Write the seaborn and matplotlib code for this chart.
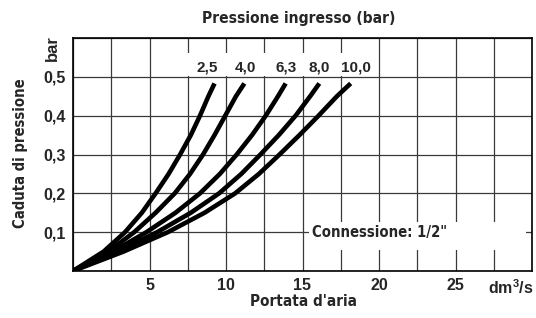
import numpy as np
import pandas as pd
import matplotlib
matplotlib.use("Agg")
import matplotlib.pyplot as plt
from matplotlib.patches import Rectangle
from matplotlib.transforms import blended_transform_factory
import seaborn as sns

# ---- data ----
pressures = ["2,5", "4,0", "6,3", "8,0", "10,0"]
drop = [0.0, 0.05, 0.10, 0.15, 0.20, 0.25, 0.30, 0.35, 0.40, 0.45, 0.483]
flow_25 = [0.0, 2.0, 3.4, 4.5, 5.4, 6.25, 7.0, 7.7, 8.3, 8.85, 9.25]
flow_40 = [0.0, 2.3, 4.0, 5.4, 6.65, 7.65, 8.5, 9.25, 9.95, 10.65, 11.2]
flow_63 = [0.0, 2.6, 4.8, 6.7, 8.3, 9.6, 10.7, 11.7, 12.6, 13.4, 13.9]
flow_80 = [0.0, 2.9, 5.5, 7.7, 9.55, 11.0, 12.25, 13.45, 14.55, 15.5, 16.1]
flow_100 = [0.0, 3.3, 6.2, 8.6, 10.6, 12.15, 13.5, 14.8, 16.05, 17.25, 18.15]
label_x = [8.8, 11.3, 13.9, 16.1, 18.5]
label_y = 0.523
x_grid = [0, 2.5, 5, 7.5, 10, 12.5, 15, 17.5, 20, 22.5, 25, 27.5, 30]
x_ticklabels = ["", "", "5", "", "10", "", "15", "", "20", "", "25", "", ""]
y_grid = [0, 0.1, 0.2, 0.3, 0.4, 0.5, 0.6]
y_ticklabels = ["", "0,1", "0,2", "0,3", "0,4", "0,5", ""]

series = [flow_25, flow_40, flow_63, flow_80, flow_100]
df = pd.concat(
    [pd.DataFrame({"flow": f, "drop": drop, "p": p}) for f, p in zip(series, pressures)],
    ignore_index=True,
)

sns.set_theme(style="white")
plt.rcParams["font.family"] = ["Liberation Sans", "DejaVu Sans"]
COND = dict(family="DejaVu Sans", fontstretch="condensed")

fig = plt.figure(figsize=(5.36, 3.18), dpi=100)
ax = fig.add_axes([73 / 536, 47 / 318, 459 / 536, 233 / 318])

ax.set_xlim(0, 30)
ax.set_ylim(0, 0.6)

# white boxes behind labels (cut the grid)
ax.add_patch(Rectangle((6.9, 0.502), 12.4, 0.06, facecolor="white", edgecolor="none", zorder=1))
ax.add_patch(Rectangle((15.4, 0.055), 14.2, 0.072, facecolor="white", edgecolor="none", zorder=1))

sns.lineplot(data=df, x="flow", y="drop", hue="p", sort=False, estimator=None,
             palette=["black"] * 5, lw=3.3, legend=False, ax=ax, zorder=3)
for ln in ax.lines:
    ln.set_solid_capstyle("butt")
    ln.set_solid_joinstyle("round")

for lx, p in zip(label_x, pressures):
    ax.text(lx, label_y, p, ha="center", va="center", fontsize=11,
            fontweight="bold", zorder=4)

ax.text(15.65, 0.1, 'Connessione: 1/2"', ha="left", va="center", fontsize=10.6,
        fontweight="bold", zorder=4, **COND)

ax.set_xticks(x_grid)
ax.set_xticklabels(x_ticklabels, fontsize=11.5, fontweight="bold")
ax.set_yticks(y_grid)
ax.set_yticklabels(y_ticklabels, fontsize=11.5, fontweight="bold")
ax.tick_params(length=0, pad=5)
ax.grid(True, color="#3a3a3a", lw=0.9, zorder=0)
ax.set_axisbelow(True)

tr = blended_transform_factory(ax.transData, ax.transAxes)
ax.text(28.6, -0.03, "dm$^{\\mathregular{3}}$/s", transform=tr, ha="center", va="top",
        fontsize=11.5, fontweight="bold")

for s in ax.spines.values():
    s.set_visible(True)
    s.set_color("black")
    s.set_linewidth(1.2)

ax.set_xlabel("")
ax.set_ylabel("")
fig.text(299 / 536, 1 - 18 / 318, "Pressione ingresso (bar)", ha="center", va="center",
         fontsize=11.2, fontweight="bold", **COND)
fig.text(303 / 536, 1 - 302 / 318, "Portata d'aria", ha="center", va="center",
         fontsize=11, fontweight="bold", **COND)
fig.text(21 / 536, 1 - 153 / 318, "Caduta di pressione", ha="center", va="center",
         rotation=90, fontsize=10.6, fontweight="bold", **COND)
fig.text(52 / 536, 1 - 48 / 318, "bar", ha="center", va="center",
         rotation=90, fontsize=12, fontweight="bold")

fig.savefig("out.png", dpi=100, facecolor="white")
